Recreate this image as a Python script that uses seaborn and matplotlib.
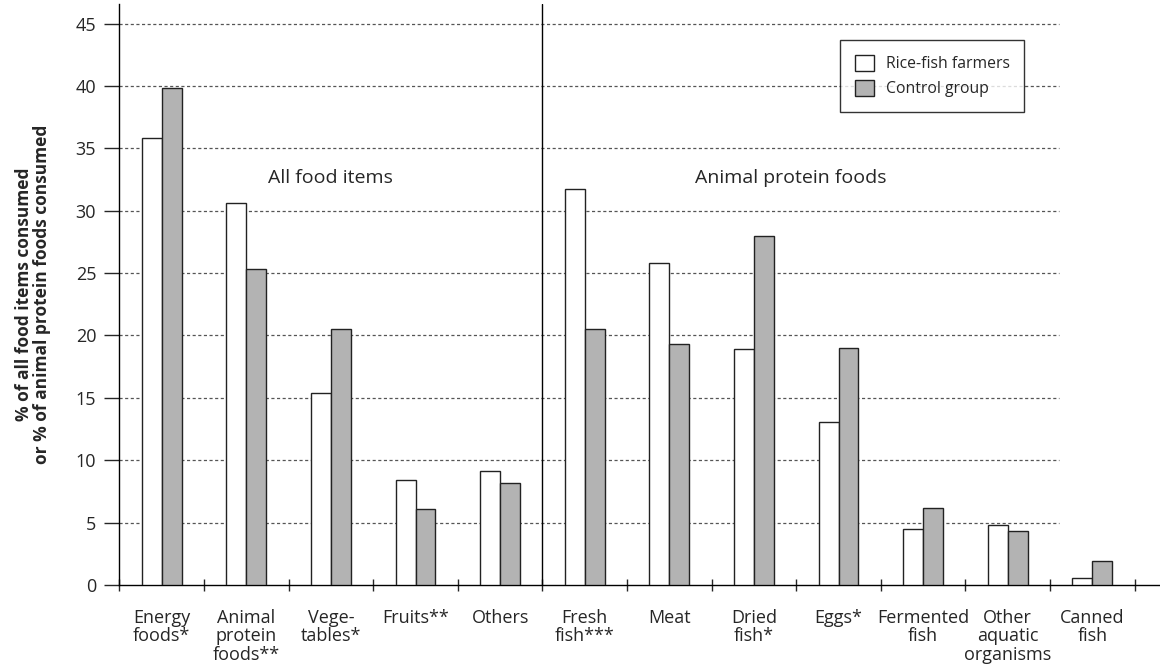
import matplotlib
matplotlib.use("Agg")
import matplotlib.pyplot as plt
import pandas as pd
import seaborn as sns
from matplotlib.patches import Patch

CATEGORIES = [
    "Energy\nfoods*", "Animal\nprotein\nfoods**", "Vege-\ntables*", "Fruits**", "Others",
    "Fresh\nfish***", "Meat", "Dried\nfish*", "Eggs*", "Fermented\nfish",
    "Other\naquatic\norganisms", "Canned\nfish",
]
GROUPS = ["Rice-fish farmers", "Control group"]
RICE_FISH = [35.8, 30.6, 15.4, 8.4, 9.1, 31.7, 25.8, 18.9, 13.1, 4.5, 4.8, 0.55]
CONTROL = [39.8, 25.3, 20.5, 6.1, 8.2, 20.5, 19.3, 28.0, 19.0, 6.2, 4.3, 1.95]
Y_TICKS = [0, 5, 10, 15, 20, 25, 30, 35, 40, 45]
SECTION_TITLES = ["All food items", "Animal protein foods"]

COLORS = {"Rice-fish farmers": "white", "Control group": "#b3b3b3"}


def main() -> None:
    sns.set_theme(style="ticks")
    plt.rcParams["font.family"] = ["Open Sans", "DejaVu Sans"]

    df = pd.DataFrame({
        "Category": CATEGORIES * 2,
        "Group": [GROUPS[0]] * len(CATEGORIES) + [GROUPS[1]] * len(CATEGORIES),
        "Value": RICE_FISH + CONTROL,
    })

    fig = plt.figure(figsize=(11.6, 6.7), dpi=100)
    ax = fig.add_axes([0.103, 0.1269, 0.897, 0.867])

    sns.barplot(
        data=df, x="Category", y="Value", hue="Group", hue_order=GROUPS,
        order=CATEGORIES, palette=COLORS, width=0.47, gap=0,
        edgecolor="#222222", linewidth=1.0, legend=False, ax=ax, zorder=3,
    )

    # garis grid putus-putus, berhenti sebelum kategori terakhir
    ax.hlines(Y_TICKS[1:], -0.5, 10.61, colors="#555555", linestyles=(0, (2.5, 2)),
              linewidth=0.9, zorder=1)
    ax.axvline(4.5, color="black", linewidth=1.0, zorder=2)

    ax.set_xlim(-0.5, 11.8)
    ax.set_ylim(0, 46.56)
    ax.set_yticks(Y_TICKS)
    ax.tick_params(axis="y", direction="out", length=10.8, width=1.0, labelsize=13, pad=6)

    ax.set_xticks(range(len(CATEGORIES)))
    ax.set_xticklabels(CATEGORIES, linespacing=1.05)
    ax.tick_params(axis="x", which="major", length=0, labelsize=13, pad=17)
    ax.set_xticks([i - 0.5 for i in range(len(CATEGORIES) + 1)], minor=True)
    ax.tick_params(axis="x", which="minor", direction="inout", length=9, width=1.0)

    sns.despine(ax=ax)
    for side in ["left", "bottom"]:
        ax.spines[side].set_linewidth(1.0)
        ax.spines[side].set_color("black")

    ax.set_xlabel("")
    ax.set_ylabel(
        "% of all food items consumed\nor % of animal protein foods consumed",
        fontsize=12.5, fontweight="bold", linespacing=1.0, labelpad=18,
    )

    ax.text(1.99, 32.2, SECTION_TITLES[0], ha="center", va="baseline", fontsize=14)
    ax.text(7.44, 32.2, SECTION_TITLES[1], ha="center", va="baseline", fontsize=14)

    handles = [Patch(facecolor=COLORS[g], edgecolor="#222222", linewidth=1.0) for g in GROUPS]
    leg = ax.legend(
        handles, GROUPS, loc="upper left", bbox_to_anchor=(0.6925, 0.938),
        borderaxespad=0, fontsize=11.3, frameon=True, fancybox=False,
        handlelength=1.2, handleheight=1.15, handletextpad=0.75,
        borderpad=0.95, labelspacing=0.5,
    )
    leg.get_frame().set_edgecolor("black")
    leg.get_frame().set_linewidth(1.0)
    leg.set_zorder(5)

    fig.savefig("out.png", dpi=100)


if __name__ == "__main__":
    main()
